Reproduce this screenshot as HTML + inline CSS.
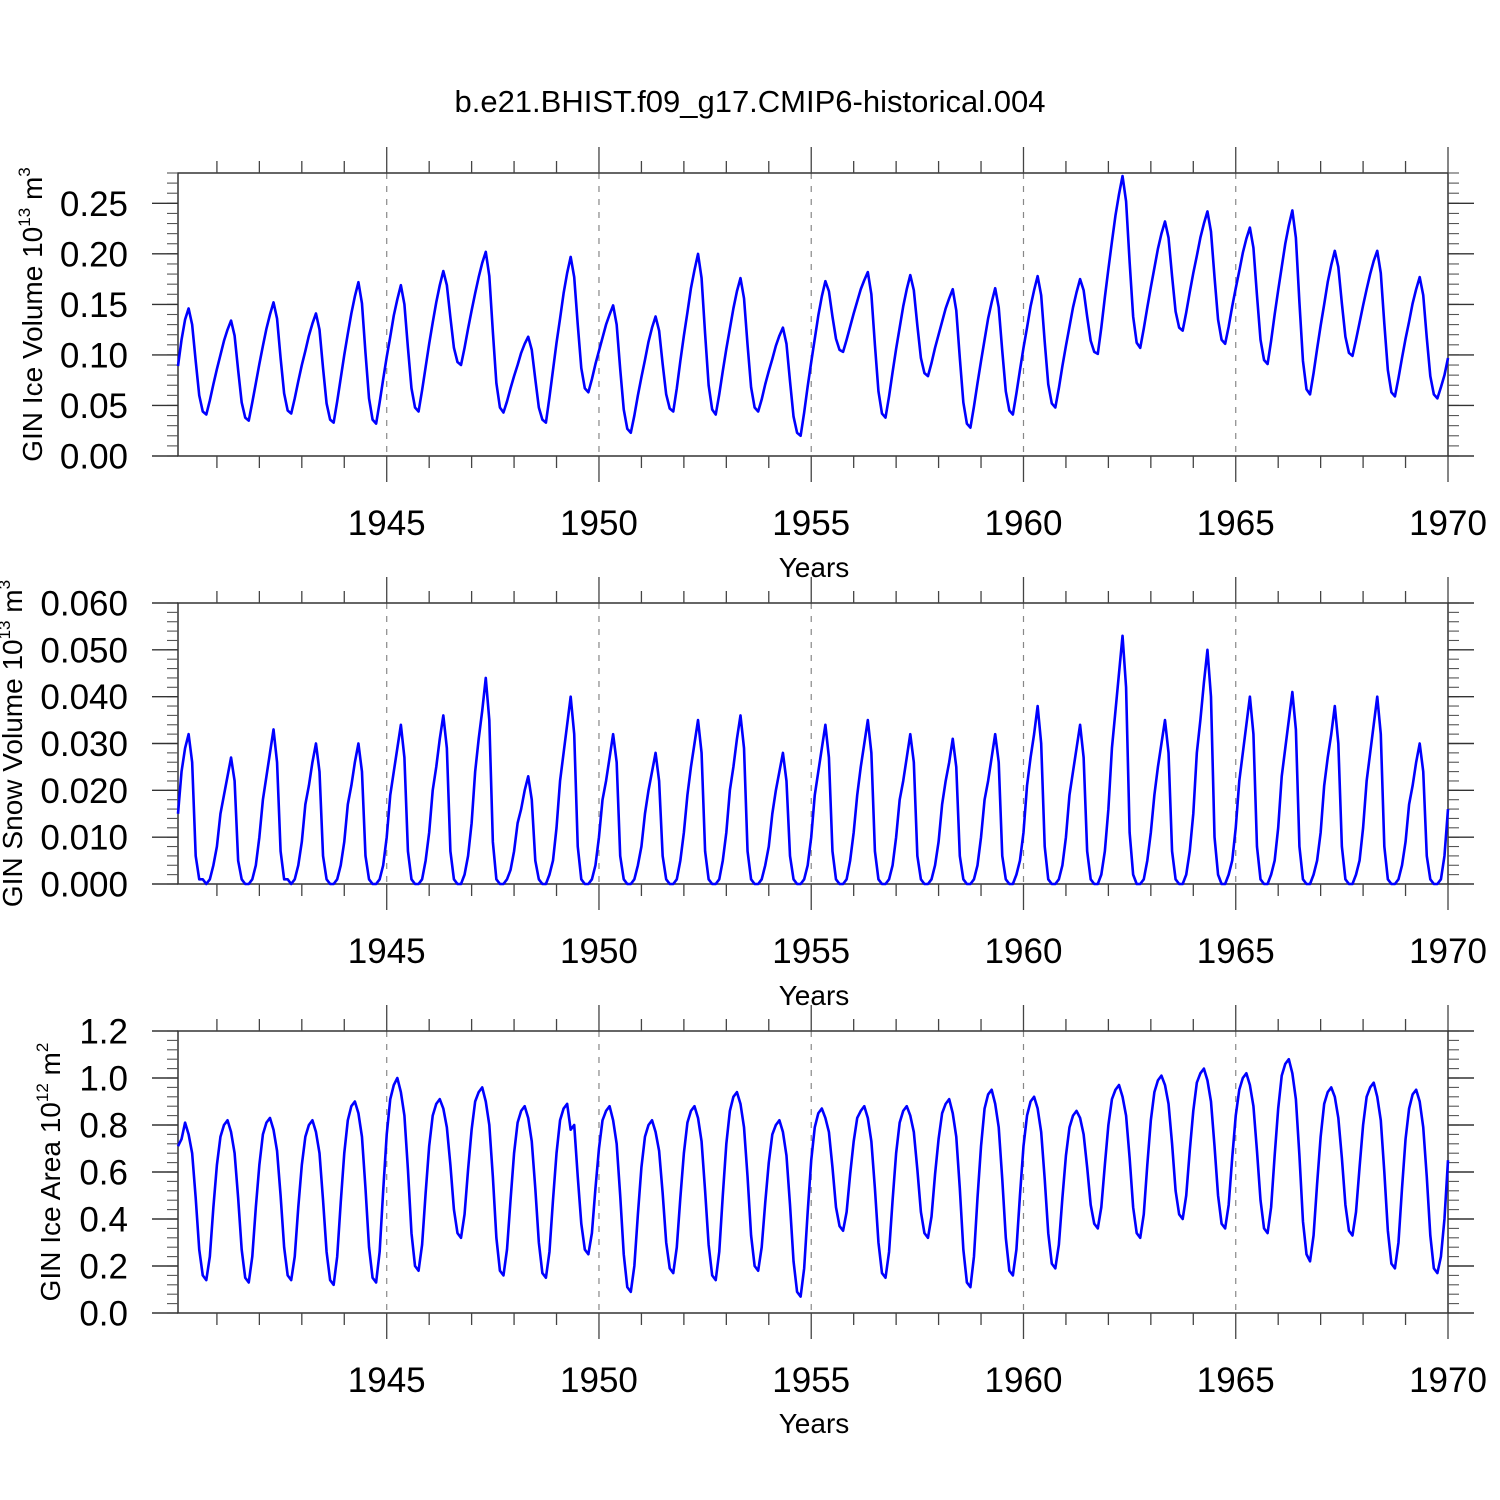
<!DOCTYPE html>
<html><head><meta charset="utf-8"><style>
html,body{margin:0;padding:0;background:#fff}
svg{display:block;font-family:"Liberation Sans",Arial,sans-serif}
</style></head><body>
<svg id="chart" width="1500" height="1500" viewBox="0 0 1500 1500" xmlns="http://www.w3.org/2000/svg">
<rect x="0" y="0" width="1500" height="1500" fill="#fff"/>
<text x="750" y="112" font-size="31" text-anchor="middle">b.e21.BHIST.f09_g17.CMIP6-historical.004</text>
</svg>
<script>
const years = [1940,1941,1942,1943,1944,1945,1946,1947,1948,1949,1950,1951,1952,1953,1954,1955,1956,1957,1958,1959,1960,1961,1962,1963,1964,1965,1966,1967,1968,1969];
const xTickLabels = ["1945","1950","1955","1960","1965","1970"];
const iceVolume = [
.089,.115,.135,.146,.130,.094,.060,.044,.041,.055,.071,.086,
.100,.114,.125,.134,.119,.085,.053,.038,.035,.053,.072,.091,
.109,.126,.140,.152,.136,.097,.062,.045,.042,.057,.074,.090,
.104,.119,.131,.141,.125,.087,.052,.036,.033,.054,.077,.100,
.121,.141,.158,.172,.151,.102,.057,.036,.032,.053,.076,.098,
.118,.139,.155,.169,.150,.107,.067,.048,.044,.065,.088,.111,
.132,.152,.169,.183,.169,.137,.107,.093,.090,.107,.126,.144,
.161,.177,.191,.202,.178,.123,.072,.048,.043,.054,.067,.079,
.090,.102,.111,.118,.105,.076,.048,.036,.033,.058,.085,.112,
.136,.161,.181,.197,.177,.130,.087,.067,.063,.076,.091,.104,
.117,.130,.140,.149,.130,.086,.046,.027,.023,.040,.060,.078,
.095,.113,.127,.138,.124,.091,.061,.047,.044,.067,.094,.119,
.142,.166,.184,.200,.176,.121,.070,.046,.041,.061,.084,.106,
.126,.146,.163,.176,.156,.110,.068,.048,.044,.056,.071,.084,
.096,.109,.119,.127,.111,.074,.039,.023,.020,.043,.069,.093,
.116,.139,.158,.173,.163,.138,.116,.105,.103,.115,.128,.141,
.153,.165,.174,.182,.160,.110,.064,.042,.038,.059,.083,.106,
.127,.148,.165,.179,.164,.129,.097,.082,.079,.092,.107,.120,
.133,.146,.156,.165,.144,.097,.053,.032,.028,.049,.072,.094,
.115,.136,.152,.166,.147,.104,.064,.045,.041,.062,.085,.107,
.127,.148,.164,.178,.159,.113,.071,.052,.048,.067,.089,.109,
.128,.147,.162,.175,.164,.138,.114,.103,.101,.127,.157,.185,
.212,.238,.259,.277,.252,.192,.138,.112,.107,.126,.147,.167,
.186,.205,.220,.232,.216,.178,.143,.127,.124,.142,.162,.181,
.198,.216,.230,.242,.222,.177,.135,.115,.111,.128,.148,.166,
.183,.201,.215,.226,.206,.159,.115,.095,.091,.114,.140,.164,
.187,.210,.228,.243,.216,.152,.094,.066,.061,.082,.106,.129,
.150,.172,.189,.203,.187,.151,.118,.102,.099,.115,.132,.149,
.165,.180,.193,.203,.181,.131,.085,.063,.059,.077,.097,.116,
.133,.151,.165,.177,.159,.117,.079,.061,.057,.068,.080,.097];
const snowVolume = [
.015,.024,.029,.032,.026,.006,.001,.001,.000,.001,.004,.008,
.015,.019,.023,.027,.022,.005,.001,.000,.000,.001,.004,.010,
.018,.023,.028,.033,.026,.007,.001,.001,.000,.001,.004,.009,
.017,.021,.026,.030,.024,.006,.001,.000,.000,.001,.004,.009,
.017,.021,.026,.030,.024,.006,.001,.000,.000,.001,.004,.010,
.019,.024,.029,.034,.027,.007,.001,.000,.000,.001,.005,.011,
.020,.025,.031,.036,.029,.007,.001,.000,.000,.002,.006,.013,
.024,.031,.037,.044,.035,.009,.001,.000,.000,.001,.003,.007,
.013,.016,.020,.023,.018,.005,.001,.000,.000,.002,.005,.012,
.022,.028,.034,.040,.032,.008,.001,.000,.000,.001,.004,.010,
.018,.022,.027,.032,.026,.006,.001,.000,.000,.001,.004,.008,
.015,.020,.024,.028,.022,.006,.001,.000,.000,.001,.005,.011,
.019,.025,.030,.035,.028,.007,.001,.000,.000,.001,.005,.011,
.020,.025,.031,.036,.029,.007,.001,.000,.000,.001,.004,.008,
.015,.020,.024,.028,.022,.006,.001,.000,.000,.001,.004,.010,
.019,.024,.029,.034,.027,.007,.001,.000,.000,.001,.005,.011,
.019,.025,.030,.035,.028,.007,.001,.000,.000,.001,.004,.010,
.018,.022,.027,.032,.026,.006,.001,.000,.000,.001,.004,.009,
.017,.022,.026,.031,.025,.006,.001,.000,.000,.001,.004,.010,
.018,.022,.027,.032,.026,.006,.001,.000,.000,.002,.005,.011,
.021,.027,.032,.038,.030,.008,.001,.000,.000,.001,.004,.010,
.019,.024,.029,.034,.027,.007,.001,.000,.000,.002,.007,.016,
.029,.037,.045,.053,.042,.011,.002,.000,.000,.001,.005,.011,
.019,.025,.030,.035,.028,.007,.001,.000,.000,.002,.007,.015,
.028,.035,.043,.050,.040,.010,.002,.000,.000,.002,.005,.012,
.022,.028,.034,.040,.032,.008,.001,.000,.000,.002,.005,.012,
.023,.029,.035,.041,.033,.008,.001,.000,.000,.002,.005,.011,
.021,.027,.032,.038,.030,.008,.001,.000,.000,.002,.005,.012,
.022,.028,.034,.040,.032,.008,.001,.000,.000,.001,.004,.009,
.017,.021,.026,.030,.024,.006,.001,.000,.000,.001,.006,.016];
const iceArea = [
.71,.74,.81,.76,.68,.49,.27,.16,.14,.24,.45,.63,
.75,.80,.82,.77,.68,.49,.27,.15,.13,.24,.45,.63,
.76,.81,.83,.78,.69,.50,.28,.16,.14,.24,.45,.63,
.75,.80,.82,.77,.68,.48,.26,.14,.12,.24,.47,.68,
.82,.88,.90,.85,.75,.53,.28,.15,.13,.26,.52,.76,
.91,.97,1.00,.94,.84,.61,.34,.20,.18,.29,.51,.71,
.84,.89,.91,.87,.79,.63,.44,.34,.32,.42,.61,.78,
.90,.94,.96,.90,.80,.58,.32,.18,.16,.27,.48,.68,
.81,.86,.88,.83,.73,.53,.30,.17,.15,.26,.48,.68,
.82,.87,.89,.78,.80,.58,.38,.27,.25,.34,.53,.70,
.82,.86,.88,.82,.72,.50,.25,.11,.09,.20,.42,.62,
.75,.80,.82,.77,.69,.51,.30,.19,.17,.28,.49,.68,
.81,.86,.88,.83,.73,.52,.29,.16,.14,.26,.50,.72,
.86,.92,.94,.89,.79,.58,.33,.20,.18,.28,.47,.64,
.76,.80,.82,.77,.67,.46,.22,.09,.07,.19,.43,.65,
.79,.85,.87,.83,.77,.62,.45,.37,.35,.43,.59,.73,
.83,.86,.88,.83,.73,.53,.30,.17,.15,.26,.48,.68,
.81,.86,.88,.84,.77,.61,.43,.34,.32,.41,.59,.74,
.85,.89,.91,.85,.75,.53,.27,.13,.11,.24,.49,.71,
.87,.93,.95,.89,.79,.57,.32,.18,.16,.27,.50,.71,
.84,.90,.92,.87,.77,.57,.34,.21,.19,.29,.49,.67,
.79,.84,.86,.83,.76,.62,.46,.38,.36,.45,.63,.80,
.91,.95,.97,.92,.84,.66,.45,.34,.32,.42,.63,.82,
.94,.99,1.01,.97,.89,.72,.52,.42,.40,.50,.69,.86,
.98,1.02,1.04,.99,.90,.71,.50,.38,.36,.46,.66,.84,
.95,1.00,1.02,.97,.88,.69,.48,.36,.34,.45,.67,.87,
1.01,1.06,1.08,1.02,.91,.67,.39,.25,.22,.33,.55,.75,
.89,.94,.96,.92,.83,.66,.46,.35,.33,.43,.62,.80,
.92,.96,.98,.92,.82,.60,.35,.21,.19,.30,.53,.74,
.87,.93,.95,.90,.79,.58,.33,.19,.17,.24,.40,.65];

const NS = "http://www.w3.org/2000/svg";
const svg = document.getElementById('chart');
const X0 = 178, X1 = 1448, T0 = 1940 + 1/12, T1 = 1970;
function xScale(t){ return X0 + (t - T0) / (T1 - T0) * (X1 - X0); }
function mk(tag, attrs, parent){
  const e = document.createElementNS(NS, tag);
  for (const k in attrs) e.setAttribute(k, attrs[k]);
  (parent || svg).appendChild(e);
  return e;
}

const panels = [
  {key:'ice-volume', data: iceVolume, top:173, bot:456, ymax:0.28, major:0.05, nmaj:6, minor:0.01, dec:2,
   title:['GIN Ice Volume 10','13',' m','3'], titleX:42, yearY:535, yearsY:577},
  {key:'snow-volume', data: snowVolume, top:603, bot:884, ymax:0.06, major:0.01, nmaj:7, minor:0.002, dec:3,
   title:['GIN Snow Volume 10','13',' m','3'], titleX:22, yearY:963, yearsY:1005},
  {key:'ice-area', data: iceArea, top:1031, bot:1313, ymax:1.2, major:0.2, nmaj:7, minor:0.04, dec:1,
   title:['GIN Ice Area 10','12',' m','2'], titleX:60, yearY:1392, yearsY:1433}
];

panels.forEach(p => {
  const g = mk('g', {});
  
  
  const yScale = v => p.bot - v / p.ymax * (p.bot - p.top);
  [1945,1950,1955,1960,1965].forEach(yr => {
    const l = mk('line', {x1:xScale(yr), x2:xScale(yr), y1:p.top, y2:p.bot, stroke:'#888', 'stroke-width':1.2, 'stroke-dasharray':'6,7'}, g);
    
    
  });
  const fr = mk('rect', {x:X0, y:p.top, width:X1-X0, height:p.bot-p.top, fill:'none', stroke:'#333', 'stroke-width':1.5}, g);
  
  
  for (let yr = 1941; yr <= 1970; yr++) {
    const x = xScale(yr), maj = yr % 5 === 0, L = maj ? 26 : 12;
    mk('line', {x1:x, x2:x, y1:p.bot, y2:p.bot + L, stroke:'#444', 'stroke-width':1.3}, g);
    mk('line', {x1:x, x2:x, y1:p.top, y2:p.top - L, stroke:'#444', 'stroke-width':1.3}, g);
  }
  xTickLabels.forEach(lbl => {
    const t = mk('text', {x:xScale(+lbl), y:p.yearY, 'font-size':35, 'text-anchor':'middle'}, g);
    t.textContent = lbl;
    
    
  });
  const yt = mk('text', {x:814, y:p.yearsY, 'font-size':28, 'text-anchor':'middle'}, g);
  yt.textContent = 'Years';
  
  
  const nMin = Math.round(p.ymax / p.minor);
  for (let k = 0; k <= nMin; k++) {
    const y = yScale(k * p.minor);
    mk('line', {x1:X0 - 11, x2:X0, y1:y, y2:y, stroke:'#555', 'stroke-width':1.1}, g);
    mk('line', {x1:X1, x2:X1 + 11, y1:y, y2:y, stroke:'#555', 'stroke-width':1.1}, g);
  }
  for (let k = 0; k < p.nmaj; k++) {
    const v = k * p.major, y = yScale(v);
    mk('line', {x1:X0 - 26, x2:X0, y1:y, y2:y, stroke:'#333', 'stroke-width':1.4}, g);
    mk('line', {x1:X1, x2:X1 + 26, y1:y, y2:y, stroke:'#333', 'stroke-width':1.4}, g);
    const t = mk('text', {x:128, y:y + 12.5, 'font-size':35, 'text-anchor':'end'}, g);
    t.textContent = v.toFixed(p.dec);
    
    
  }
  const cy = (p.top + p.bot) / 2;
  const tt = mk('text', {x:0, y:0, 'font-size':28, 'text-anchor':'middle', transform:`translate(${p.titleX},${cy}) rotate(-90)`}, g);
  
  
  const s1 = mk('tspan', {}, tt); s1.textContent = p.title[0];
  const s2 = mk('tspan', {dy:-12, 'font-size':17}, tt); s2.textContent = p.title[1];
  const s3 = mk('tspan', {dy:12}, tt); s3.textContent = p.title[2];
  const s4 = mk('tspan', {dy:-12, 'font-size':17}, tt); s4.textContent = p.title[3];
  const pts = p.data.map((v, i) => xScale(1940 + (i + 1) / 12).toFixed(2) + ',' + yScale(v).toFixed(2)).join(' ');
  const pl = mk('polyline', {points:pts, fill:'none', stroke:'#0000ff', 'stroke-width':2.6, 'stroke-linejoin':'round'}, g);
  
  
});
</script>
</body></html>
